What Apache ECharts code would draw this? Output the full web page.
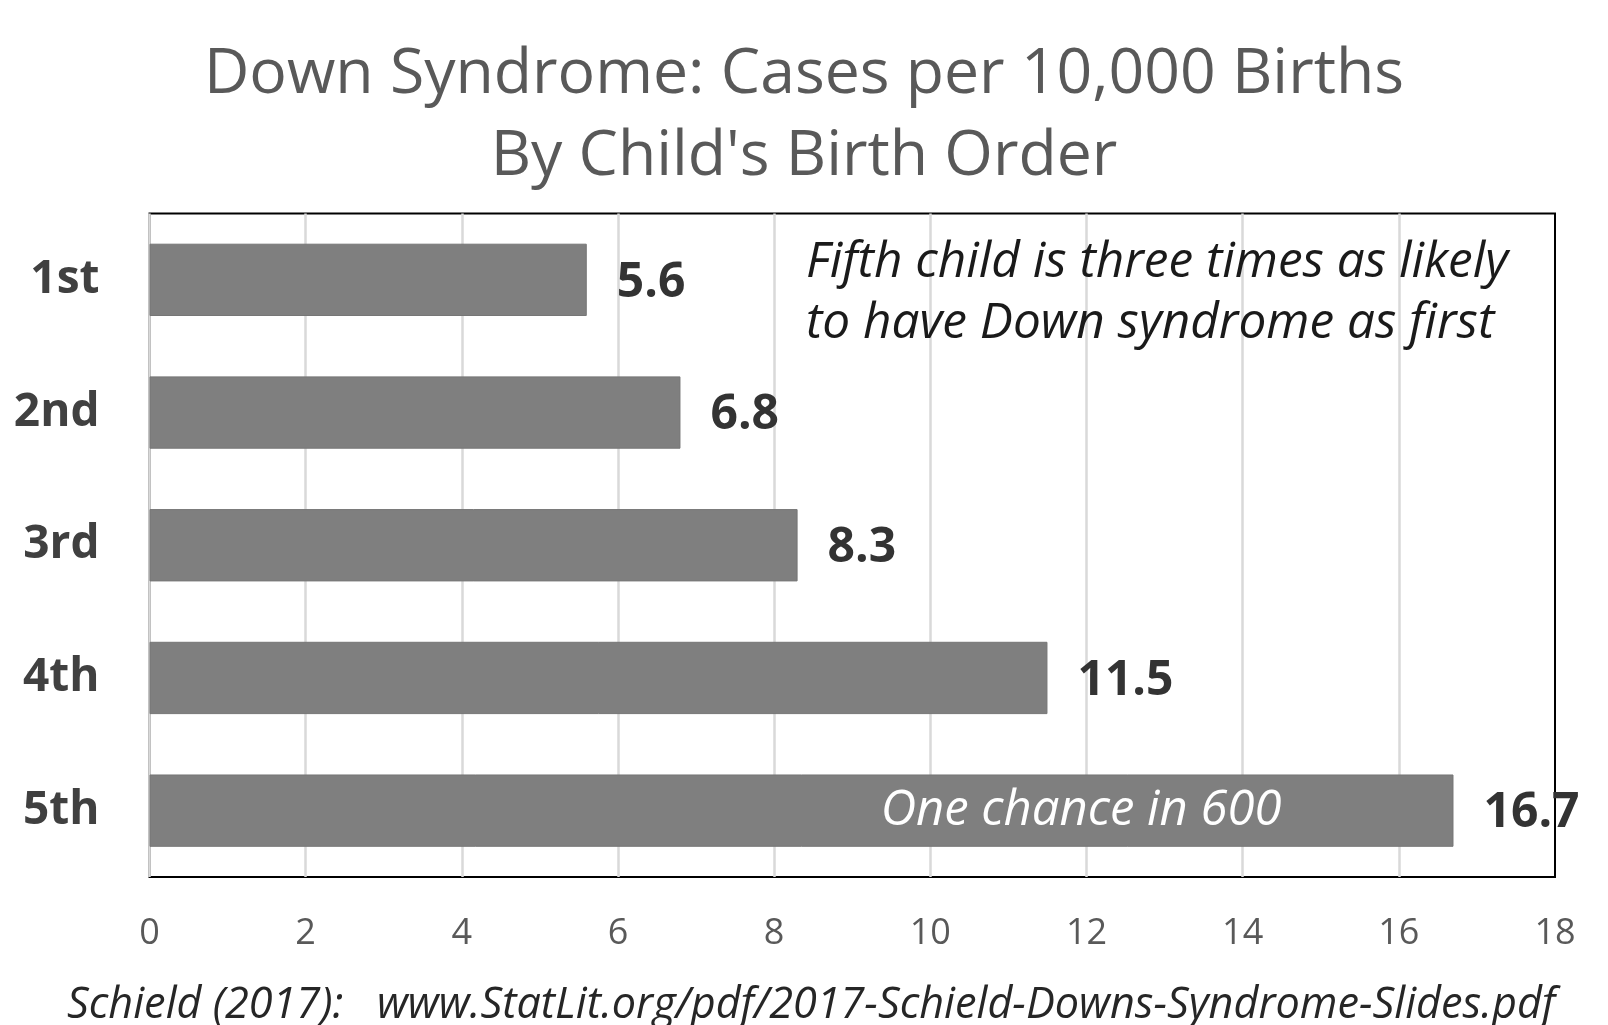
<!DOCTYPE html>
<html>
<head>
<meta charset="utf-8">
<script src="https://cdn.jsdelivr.net/npm/echarts@6/dist/echarts.min.js"></script>
<style>
html,body{margin:0;padding:0;background:#fff;}
#chart{width:1608px;height:1025px;}
</style>
</head>
<body>
<div id="chart"></div>
<script>
var categories = ['1st', '2nd', '3rd', '4th', '5th'];
var values = [5.6, 6.8, 8.3, 11.5, 16.7];
var xTicks = [0, 2, 4, 6, 8, 10, 12, 14, 16, 18];
var titleLines = ['Down Syndrome: Cases per 10,000 Births', "By Child's Birth Order"];
var noteLines = ['Fifth child is three times as likely', 'to have Down syndrome as first'];
var barNote = 'One chance in 600';
var source = 'Schield (2017):   www.StatLit.org/pdf/2017-Schield-Downs-Syndrome-Slides.pdf';

var FONT = '"Open Sans"';
var chart = echarts.init(document.getElementById('chart'), null, {renderer: 'canvas'});
chart.setOption({
  backgroundColor: '#ffffff',
  animation: false,
  title: {
    text: titleLines.join('\n'),
    left: 'center',
    top: 29,
    textStyle: {fontFamily: FONT, fontSize: 62.5, fontWeight: 'normal', color: '#595959', lineHeight: 82}
  },
  grid: {
    left: 149.5, right: 53, top: 213.5, bottom: 148,
    show: true, borderColor: '#000000', borderWidth: 2, backgroundColor: 'transparent',
    containLabel: false
  },
  xAxis: {
    type: 'value',
    min: xTicks[0], max: xTicks[xTicks.length - 1], interval: 2,
    axisLine: {show: false},
    axisTick: {show: false},
    axisLabel: {fontFamily: FONT, fontSize: 36, color: '#595959', margin: 39},
    splitLine: {show: true, showMaxLine: false, lineStyle: {color: '#d9d9d9', width: 2.5}}
  },
  yAxis: {
    type: 'category',
    data: categories,
    inverse: true,
    axisLine: {show: false},
    axisTick: {show: false},
    axisLabel: {fontFamily: FONT, fontSize: 46, fontWeight: 'bold', color: '#404040', margin: 50}
  },
  series: [{
    type: 'bar',
    data: values,
    barCategoryGap: '45.5%',
    itemStyle: {color: '#7f7f7f', borderColor: '#767676', borderWidth: 1},
    label: {
      show: true, position: 'right', distance: 30, offset: [0, 3],
      fontFamily: FONT, fontSize: 48, fontWeight: 'bold', color: '#333333',
      formatter: function (p) { return p.value.toFixed(1); }
    },
    markPoint: {
      symbol: 'circle', symbolSize: 0,
      silent: true,
      data: [{
        coord: [11.93, categories[4]],
        label: {
          show: true, position: 'inside', formatter: barNote,
          fontFamily: FONT, fontSize: 49, fontStyle: 'italic', color: '#ffffff'
        }
      }]
    }
  }],
  graphic: [
    {
      type: 'text', left: 806, top: 232, z: 10,
      style: {
        text: noteLines.join('\n'),
        font: 'italic 49.5px ' + FONT,
        fill: '#1a1a1a', lineHeight: 61.5
      }
    },
    {
      type: 'text', left: 67, top: 984, z: 10,
      style: {
        text: source,
        font: 'italic 43.2px ' + FONT,
        fill: '#262626'
      }
    }
  ]
});
</script>
</body>
</html>
